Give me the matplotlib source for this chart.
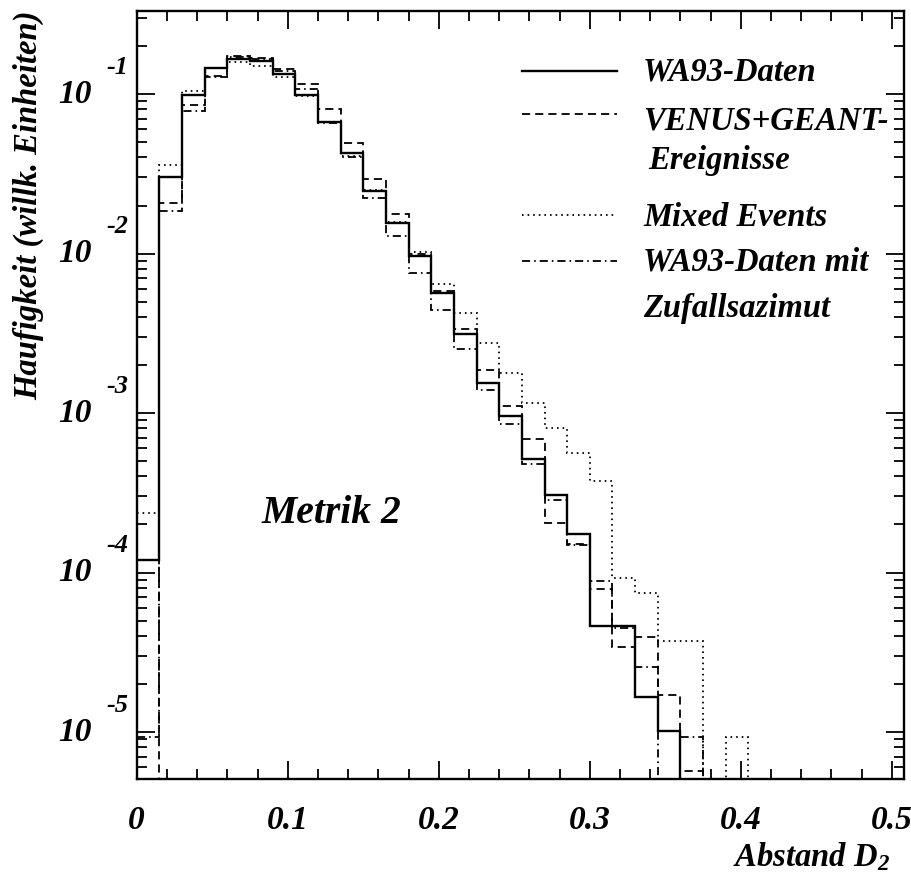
import numpy as np
import matplotlib
matplotlib.use('Agg')
import matplotlib.pyplot as plt
from matplotlib.lines import Line2D
import matplotlib.transforms as mtransforms
from matplotlib.ticker import FixedLocator, NullFormatter, LogLocator

# ---------------- data (bin width 0.015 in D2) ----------------
bin_width = 0.015
wa93 = [1.20e-4, 0.0303, 0.0986, 0.146, 0.166, 0.161, 0.133, 0.0986, 0.0667, 0.0425,
        0.0247, 0.0155, 0.00964, 0.00569, 0.00311, 0.00155, 9.64e-4, 5.13e-4, 3.06e-4, 1.74e-4,
        4.62e-5, 4.62e-5, 1.65e-5, 1.01e-5, 0, 0, 0, 0]
venus = [0, 0.0208, 0.0853, 0.130, 0.174, 0.169, 0.144, 0.115, 0.080, 0.0496,
         0.0293, 0.0176, 0.00993, 0.0058, 0.00337, 0.00186, 0.00111, 6.86e-4, 2.03e-4, 1.52e-4,
         7.9e-5, 3.4e-5, 3.95e-5, 1.71e-5, 5.7e-6, 0, 0, 0]
mixed = [2.35e-4, 0.0359, 0.105, 0.145, 0.159, 0.150, 0.128, 0.097, 0.067, 0.041,
         0.025, 0.0158, 0.0102, 0.00644, 0.00426, 0.00276, 0.00177, 0.00115, 8.0e-4, 5.64e-4,
         3.77e-4, 9.3e-5, 7.46e-5, 3.73e-5, 3.73e-5, 0, 9.3e-6, 0]
zufall = [9.3e-6, 0.0185, 0.0786, 0.128, 0.171, 0.165, 0.140, 0.107, 0.066, 0.0404,
          0.0222, 0.0129, 0.0076, 0.0044, 0.00253, 0.00139, 8.59e-4, 4.77e-4, 2.83e-4, 1.49e-4,
          8.9e-5, 4.47e-5, 2.57e-5, 0, 9.3e-6, 0, 0, 0]

xtick_vals = [0, 0.1, 0.2, 0.3, 0.4, 0.5]
xtick_labels = ['0', '0.1', '0.2', '0.3', '0.4', '0.5']
ytick_exps = [-1, -2, -3, -4, -5]
legend_labels = ['WA93-Daten', 'VENUS+GEANT-', 'Ereignisse', 'Mixed Events',
                 'WA93-Daten mit', 'Zufallsazimut']

# ---------------- style ----------------
FONT = dict(family='Liberation Serif', weight='bold', style='italic')
plt.rcParams['mathtext.fontset'] = 'custom'
plt.rcParams['mathtext.it'] = 'Liberation Serif:bold:italic'
plt.rcParams['mathtext.rm'] = 'Liberation Serif:bold:italic'
plt.rcParams['mathtext.bf'] = 'Liberation Serif:bold:italic'

fig = plt.figure(figsize=(9.12, 8.77), dpi=100)
ax = fig.add_axes([0.1499, 0.1123, 0.8413, 0.8755])

n = len(wa93)
edges = np.arange(n + 1) * bin_width

def pos(v):
    v = np.asarray(v, dtype=float)
    return np.where(v > 0, v, 1e-12)

styles = [
    (mixed, dict(color='black', lw=1.3, linestyle=(0, (0.9, 2.2)))),
    (zufall, dict(color='black', lw=1.3, linestyle=(0, (4.5, 2.2, 0.9, 2.2)))),
    (venus, dict(color='black', lw=1.3, linestyle=(0, (4.5, 2.8)))),
    (wa93, dict(color='black', lw=1.7, linestyle='-')),
]
for vals, st in styles:
    ax.stairs(pos(vals), edges, baseline=None, **st)

ax.set_yscale('log')
ax.set_xlim(0, 0.508)
ax.set_ylim(5.11e-6, 0.333)

for s in ax.spines.values():
    s.set_linewidth(1.7)

# ticks
ax.xaxis.set_major_locator(FixedLocator(xtick_vals))
ax.xaxis.set_minor_locator(FixedLocator(np.arange(0, 0.51, 0.02)))
ax.set_xticklabels(xtick_labels, fontsize=24, **FONT)
ax.yaxis.set_major_locator(LogLocator(base=10, numticks=20))
ax.yaxis.set_minor_locator(LogLocator(base=10, subs=np.arange(2, 10), numticks=20))
ax.yaxis.set_major_formatter(NullFormatter())
ax.yaxis.set_minor_formatter(NullFormatter())
ax.tick_params(which='both', direction='in', top=True, right=True, width=1.3)
ax.tick_params(which='major', length=13)
ax.tick_params(which='minor', length=7)
ax.tick_params(axis='x', which='major', pad=19)

# y tick labels "10" with raised exponent
trans = mtransforms.blended_transform_factory(ax.transAxes, ax.transData)
for e in ytick_exps:
    ax.text(-0.058, 10.0 ** e, '10', transform=trans, ha='right', va='center',
            fontsize=24, clip_on=False, **FONT)
    off = mtransforms.ScaledTranslation(0, 0.27, fig.dpi_scale_trans)
    ax.text(-0.040, 10.0 ** e, str(e), transform=trans + off, ha='left', va='center',
            fontsize=19, clip_on=False, **FONT)

# axis labels
fig.text(0.031, 1 - 205 / 877, 'Haufigkeit (willk. Einheiten)', rotation=90,
         ha='center', va='center', fontsize=23.5, **FONT)
fig.text(890 / 912, 1 - 866 / 877, r'Abstand $D_{2}$', ha='right', va='baseline',
         fontsize=23.5, **FONT)

# annotation
ax.text(0.1633, 0.3328, 'Metrik 2', transform=ax.transAxes, ha='left', va='baseline',
        fontsize=28.5, **FONT)

# manual legend
leg_rows = [0.9219, 0.8652, 0.7339, 0.6744]
for (vals, st), yy in zip([styles[3], styles[2], styles[0], styles[1]], leg_rows):
    ax.add_line(Line2D([0.5018, 0.6256], [yy, yy], transform=ax.transAxes, **st))
text_pos = [(0.6598, 0.9089), (0.6598, 0.8455), (0.6664, 0.7934), (0.6598, 0.7200),
            (0.6598, 0.6610), (0.6598, 0.6015)]
for lab, (tx, ty) in zip(legend_labels, text_pos):
    ax.text(tx, ty, lab, transform=ax.transAxes, ha='left', va='baseline',
            fontsize=23.5, **FONT)

fig.savefig('out.png', dpi=100)
